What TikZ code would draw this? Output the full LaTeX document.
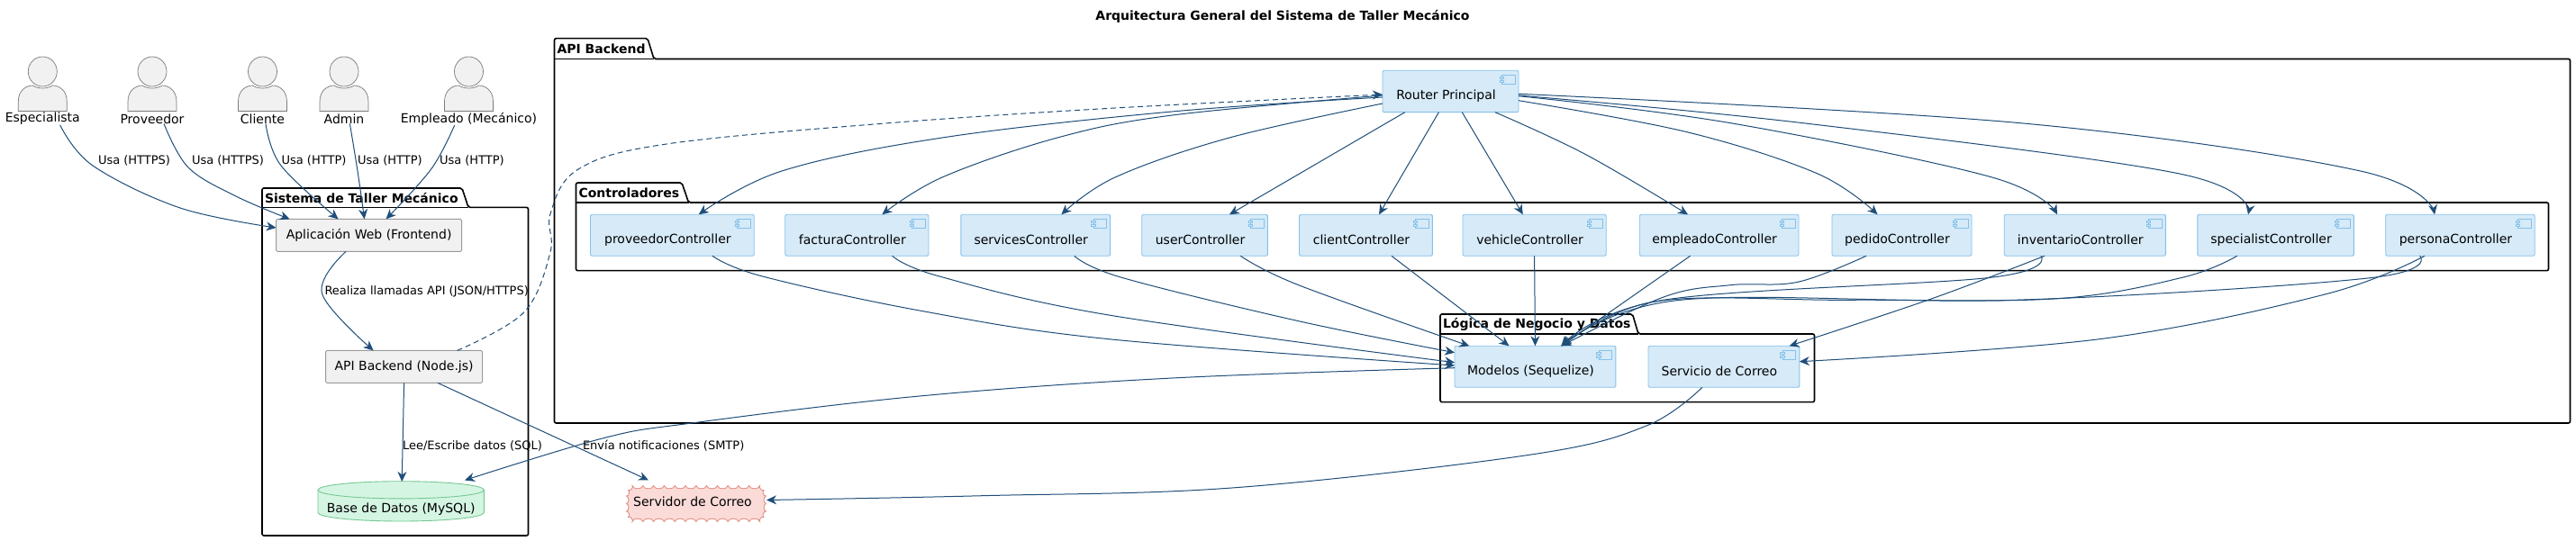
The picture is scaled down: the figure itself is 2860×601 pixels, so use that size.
\documentclass[tikz,border=0pt]{standalone}
\usepackage{fontspec}
\setmainfont{DejaVu Sans}
\usetikzlibrary{arrows.meta,calc}
\definecolor{edgec}{HTML}{1F4E79}
\definecolor{compfill}{HTML}{D6EAF8}
\definecolor{compline}{HTML}{85C1E9}
\definecolor{grayfill}{HTML}{F1F1F1}
\definecolor{grayline}{HTML}{9A9A9A}
\definecolor{dbfill}{HTML}{D5F5E3}
\definecolor{dbline}{HTML}{76C893}
\definecolor{cloudfill}{HTML}{FADBD8}
\definecolor{cloudline}{HTML}{E08A7E}
\definecolor{actfill}{HTML}{F1F1F1}
\definecolor{actline}{HTML}{7A7A7A}
\tikzset{
 x=1pt,y=-1pt,
 every node/.style={font=\fontsize{14}{17}\selectfont,inner sep=0pt,outer sep=0pt},
 edge/.style={draw=edgec,line width=1pt,-{Stealth[length=11pt,width=10pt,inset=3.5pt,fill=edgec]}},
 dashedge/.style={edge,dashed,dash pattern=on 6pt off 4pt},
 smo/.style={smooth,tension=0.6},
 pkgline/.style={draw=black,line width=1.6pt,rounded corners=2pt,fill=white},
 pkgtitle/.style={anchor=west,font=\fontsize{14}{17}\selectfont\bfseries},
 compbox/.style={draw=compline,fill=compfill,line width=0.9pt,rounded corners=1.5pt},
 graybox/.style={draw=grayline,fill=grayfill,line width=0.9pt,rounded corners=1.5pt},
 icon/.style={draw=compline,fill=compfill,line width=0.9pt},
 actorshape/.style={draw=actline,fill=actfill,line width=0.7pt},
 edgelabel/.style={anchor=west,font=\fontsize{13}{16}\selectfont},
}
\newcommand{\compnode}[6]{%
 \node[compbox,minimum width=#3pt-#2pt,minimum height=#5pt-#4pt] (#1) at ({(#2+#3)/2},{(#4+#5)/2}) {\raisebox{-5pt}[\height][\depth]{#6\hspace{10pt}}};
 \draw[icon] ([xshift=-18.5pt,yshift=-5pt]#1.north east) rectangle ([xshift=-4pt,yshift=-15pt]#1.north east);
 \draw[icon] ([xshift=-21pt,yshift=-7.5pt]#1.north east) rectangle ([xshift=-16.5pt,yshift=-9.5pt]#1.north east);
 \draw[icon] ([xshift=-21pt,yshift=-11pt]#1.north east) rectangle ([xshift=-16.5pt,yshift=-13pt]#1.north east);
}
\newcommand{\actornode}[3]{%
 \draw[actorshape] (#2,79.5) ellipse [x radius=16pt,y radius=16.5pt];
 \draw[actorshape] (#2-27,123.5) -- (#2-27,113) .. controls (#2-27,100) and (#2-18,95) .. (#2-11,95) .. controls (#2-5,99) and (#2+5,99) .. (#2+11,95) .. controls (#2+18,95) and (#2+27,100) .. (#2+27,113) -- (#2+27,123.5) -- cycle;
 \node (#1) at (#2,132) {#3};
}
\newcommand{\pkg}[9]{%
 \draw[pkgline] (#1,#6) -- (#1,#5) -- (#2,#5) -- (#3,#6) -- (#4,#6) -- (#4,#7) -- (#1,#7) -- cycle;
 \draw[draw=black,line width=1.6pt] (#1,#6) -- (#3,#6);
 \node[pkgtitle] (#8) at (#1+3,{(#5+#6)/2}) {#9};
}
\begin{document}
\begin{tikzpicture}
\useasboundingbox (0,0) rectangle (2860,601);
\fill[white] (0,0) rectangle (2860,601);
\node[font=\fontsize{14}{17}\selectfont\bfseries] (title) at (1424,18) {Arquitectura General del Sistema de Taller Mecánico};
\pkg{291}{513}{520}{586.5}{209}{230.4}{595}{pkgsis}{Sistema de Taller Mecánico}
\pkg{615.5}{719}{726}{2853.5}{42.7}{65.5}{470}{pkgapi}{API Backend}
\pkg{639.5}{757}{764.5}{2829.5}{203}{225}{300.7}{pkgctl}{Controladores}
\pkg{1599}{1812.5}{1819}{2014.5}{349}{371}{446.7}{pkglog}{Lógica de Negocio y Datos}
\actornode{esp}{47.3}{Especialista}
\actornode{prov}{169}{Proveedor}
\actornode{cli}{291.5}{Cliente}
\actornode{adm}{382}{Admin}
\actornode{emp}{520.5}{Empleado (Mecánico)}
\node[graybox,minimum width=206pt,minimum height=36pt] (web) at (409.6,261.4) {Aplicación Web (Frontend)};
\node[graybox,minimum width=174pt,minimum height=36pt] (api) at (448.6,407.4) {API Backend (Node.js)};
% database
\fill[dbfill] (353,544.3) -- (353,569.4) arc[start angle=180,end angle=0,x radius=92.2pt,y radius=-9.6pt] -- (537.4,544.3) -- cycle;
\draw[dbline,line width=0.9pt] (353,544.3) -- (353,569.4) arc[start angle=180,end angle=0,x radius=92.2pt,y radius=-9.6pt] -- (537.4,544.3);
\draw[dbline,fill=dbfill,line width=0.9pt] (445.2,544.3) ellipse [x radius=92.2pt,y radius=9.6pt];
\node[minimum width=184pt,minimum height=44pt] (db) at (445.2,557) {\raisebox{-9pt}[\height][\depth]{Base de Datos (MySQL)}};
% cloud
\draw[draw=cloudline,fill=cloudfill,line width=0.8pt,bend right=80] (702,539.5)
 \foreach \px/\py in {713.8/539.5,725.6/539.5,737.4/539.5,749.2/539.5,761/539.5,772.8/539.5,784.6/539.5,796.4/539.5,808.2/539.5,820/539.5,831.8/539.5,843.6/539.5,848/544.5,850.5/551,850.5/559.5,850.5/568,848/574.5,843.6/579.5,831.8/579.5,820/579.5,808.2/579.5,796.4/579.5,784.6/579.5,772.8/579.5,761/579.5,749.2/579.5,737.4/579.5,725.6/579.5,713.8/579.5,702/579.5,697.5/574.5,695.5/568,695.5/559.5,695.5/551,697.5/544.5,702/539.5} { to (\px,\py) } -- cycle;
\node[minimum width=156pt,minimum height=42pt] (mail) at (773,559.5) {\raisebox{2.5pt}[\height][\depth]{Servidor de Correo\hspace{8pt}}};
% components
\compnode{router}{1535}{1686}{78.3}{124.7}{Router Principal}
\compnode{c1}{655.5}{837.2}{238.3}{284.3}{proveedorController}
\compnode{c2}{871.7}{1031}{238.3}{284.3}{facturaController}
\compnode{c3}{1066.8}{1232.6}{238.3}{284.3}{servicesController}
\compnode{c4}{1267.7}{1407.4}{238.3}{284.3}{userController}
\compnode{c5}{1442.5}{1590.4}{238.3}{284.3}{clientController}
\compnode{c6}{1624}{1783.2}{238.3}{284.3}{vehicleController}
\compnode{c7}{1820.2}{1997}{238.3}{284.3}{empleadoController}
\compnode{c8}{2034}{2189}{238.3}{284.3}{pedidoController}
\compnode{c9}{2225.2}{2404.4}{238.3}{284.3}{inventarioController}
\compnode{c10}{2439.8}{2613.3}{238.3}{284.3}{specialistController}
\compnode{c11}{2648.7}{2814.2}{238.3}{284.3}{personaController}
\compnode{models}{1615}{1793.9}{384.3}{430.3}{Modelos (Sequelize)}
\compnode{svc}{1830}{1997.8}{384.3}{430.3}{Servicio de Correo}
% actor edges
\draw[edge] plot[smo] coordinates {([xshift=19.3pt]esp.south) (103,184) (200,231) ([yshift=8.4pt]web.west)};
\draw[edge] plot[smo] coordinates {([xshift=13pt]prov.south) (209,186) (262,218) ([xshift=-88pt]web.north)};
\draw[edge] plot[smo] coordinates {([xshift=3.5pt]cli.south) (312,184) ([xshift=-34pt]web.north)};
\draw[edge] plot[smo] coordinates {([xshift=6.4pt]adm.south) (397,190) ([xshift=-5pt]web.north)};
\draw[edge] plot[smo] coordinates {([xshift=-15.8pt]emp.south) (478.6,188) ([xshift=19pt]web.north)};
% system edges
\draw[edge] plot[smo] coordinates {([xshift=-25.6pt]web.south) (357.5,326) ([xshift=-34pt]api.north)};
\draw[edge] (api.south) -- ([xshift=1pt]db.north);
\draw[edge] ([xshift=37.4pt]api.south) -- ([xshift=-53pt,yshift=5pt]mail.north);
\draw[dashedge] plot[smo] coordinates {([xshift=59pt]api.north) (581.7,347) (611,280) (611,237.6) (642,188) (740,160) (983,137) (1238,120) ([yshift=-3.5pt]router.west)};
\draw[edge] plot[smo] coordinates {([yshift=-1.4pt]models.west) (1301.5,420) (1021,440) (768,470) (670,486.7) ([xshift=70.8pt,yshift=1.5pt]db.north)};
\draw[edge] plot[smo] coordinates {([xshift=-24pt]svc.south) (1828,473) (1700,505) (1371.7,541.7) (1091,550.7) ([yshift=4pt]mail.east)};
% labels
\node[edgelabel] (l1) at (109,178) {Usa (HTTPS)};
\node[edgelabel] (l2) at (213,178) {Usa (HTTPS)};
\node[edgelabel] (l3) at (312.6,178) {Usa (HTTP)};
\node[edgelabel] (l4) at (397,178) {Usa (HTTP)};
\node[edgelabel] (l5) at (488,178) {Usa (HTTP)};
\node[edgelabel] (l6) at (360.5,324) {Realiza llamadas API (JSON/HTTPS)};
\node[edgelabel] (l7) at (447,495) {Lee/Escribe datos (SQL)};
\node[edgelabel] (l8) at (647,495) {Envía notificaciones (SMTP)};
% router edges
\draw[edge] plot[smo] coordinates {([yshift=-6.5pt]router.west) (1301,124) (1046,153) (868,190) ([xshift=29.4pt]c1.north)};
\draw[edge] plot[smo] coordinates {([yshift=-4.5pt]router.west) (1301.5,128) (1174,153) (1046,197) ([xshift=28pt]c2.north)};
\draw[edge] plot[smo] coordinates {([yshift=-13.5pt]router.west) (1365,153) (1238,197) ([xshift=28.7pt]c3.north)};
\draw[edge] ([xshift=-50.7pt]router.south) -- ([xshift=27.4pt]c4.north);
\draw[edge] ([xshift=-13.1pt]router.south) -- ([xshift=14.6pt]c5.north);
\draw[edge] ([xshift=12.8pt]router.south) -- ([xshift=-12.8pt]c6.north);
\draw[edge] plot[smo] coordinates {([xshift=49.5pt]router.south) (1760.7,171.7) ([xshift=-34.6pt]c7.north)};
\draw[edge] plot[smo] coordinates {([yshift=-10.2pt]router.east) (1873,146.7) (2018,193) ([xshift=-27pt]c8.north)};
\draw[edge] plot[smo] coordinates {([yshift=-5.2pt]router.east) (1921.4,136.7) (2210.7,196.7) ([xshift=-30.8pt]c9.north)};
\draw[edge] plot[smo] coordinates {([yshift=-4.5pt]router.east) (2001.8,136.7) (2419.7,193) ([xshift=-30.5pt]c10.north)};
\draw[edge] plot[smo] coordinates {([yshift=-2.8pt]router.east) (2242.9,136.7) (2620.6,190) ([xshift=-28.4pt]c11.north)};
% controller to models
\draw[edge] plot[smo] coordinates {([xshift=44.6pt]c1.south) (845.5,306.7) (1021,345) (1231,376.7) ([yshift=1.3pt]models.west)};
\draw[edge] plot[smo] coordinates {([xshift=39.3pt]c2.south) (1042,306.7) (1231,350) ([yshift=4.6pt]models.west)};
\draw[edge] plot[smo] coordinates {([xshift=43.1pt]c3.south) (1245.4,308.3) (1441.8,356.7) ([yshift=15.6pt]models.west)};
\draw[edge] plot[smo] coordinates {([xshift=39.7pt]c4.south) (1441.8,316.7) ([xshift=-73.2pt]models.north)};
\draw[edge] ([xshift=28.5pt]c5.south) -- ([xshift=-29pt]models.north);
\draw[edge] (c6.south) -- (models.north);
\draw[edge] ([xshift=-32pt]c7.south) -- ([xshift=29pt]models.north);
\draw[edge] plot[smo] coordinates {([xshift=-39.5pt]c8.south) (1996,313.3) (1921,316.7) (1847,330) ([xshift=29pt]models.north)};
\draw[edge] plot[smo] coordinates {([xshift=-48.8pt]c9.south) (2210,308.3) (1847,333.3) ([xshift=29pt]models.north)};
\draw[edge] plot[smo] coordinates {([xshift=-44.8pt]c9.south) (2145,331.7) ([xshift=72.7pt]svc.north)};
\draw[edge] plot[smo] coordinates {([xshift=-42.8pt]c10.south) (2424,308) (2284.5,331.7) (2052,333.3) (1837.6,335) ([xshift=29pt]models.north)};
\draw[edge] plot[smo] coordinates {([xshift=-44.8pt]c11.south) (2629,309) (2238,333.3) (1865.5,333.3) ([xshift=29pt]models.north)};
\draw[edge] plot[smo] coordinates {([xshift=-39.5pt]c11.south) (2582.4,326.7) (2331,376.7) ([yshift=5.6pt]svc.east)};
\end{tikzpicture}
\end{document}
